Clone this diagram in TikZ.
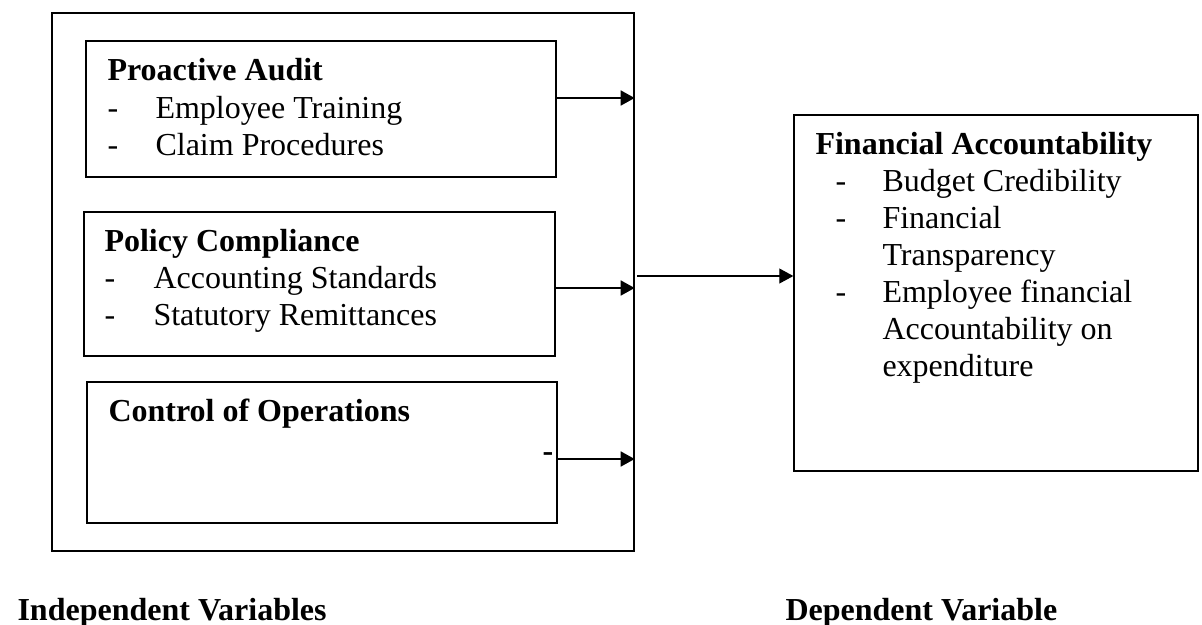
\documentclass[tikz,border=0pt]{standalone}
\usepackage{fontspec}
\setmainfont{Liberation Serif}
\usetikzlibrary{arrows.meta,fit}
\begin{document}
\begin{tikzpicture}[x=0.375pt,y=-0.375pt,
  box/.style={draw, line width=0.5pt, inner sep=0pt},
  txt/.style={anchor=base west, inner sep=0pt, font=\fontsize{12}{13.8}\selectfont},
  hd/.style={txt, font=\fontsize{12}{13.8}\selectfont\bfseries},
  arr/.style={line width=0.75pt, -{Triangle[length=5.25pt,width=5.6pt]}},
  thinarr/.style={line width=0.45pt, -{Triangle[length=5.25pt,width=5.6pt]}}]
\useasboundingbox (0,0) rectangle (1202,624);

% frames
\node[box, fit={(52,13)(634,551)}] (outer) {};
\node[box, fit={(86,41)(556,177)}] (pa) {};
\node[box, fit={(84,212)(555,356)}] (pc) {};
\node[box, fit={(87,382)(557,523)}] (co) {};
\node[box, fit={(794,115)(1198,471)}] (fa) {};

% independent variables
\node[hd] (paT) at (107,80) {Proactive Audit};
\node[txt] (paD1) at (107,118) {-};
\node[txt] (paI1) at (155,118) {Employee Training};
\node[txt] (paD2) at (107,155) {-};
\node[txt] (paI2) at (155,155) {Claim Procedures};

\node[hd] (pcT) at (104,251) {Policy Compliance};
\node[txt] (pcD1) at (104,288) {-};
\node[txt] (pcI1) at (153,288) {Accounting Standards};
\node[txt] (pcD2) at (104,325) {-};
\node[txt] (pcI2) at (153,325) {Statutory Remittances};

\node[hd] (coT) at (108,421) {Control of Operations};
\node[hd] (coD) at (542,461) {-};

% dependent variable
\node[hd] (faT) at (815,154) {Financial Accountability};
\node[txt] (faD1) at (835,191) {-};
\node[txt] (faI1) at (882,191) {Budget Credibility};
\node[txt] (faD2) at (835,228) {-};
\node[txt] (faI2) at (882,228) {Financial};
\node[txt] (faI2b) at (882,265) {Transparency};
\node[txt] (faD3) at (835,302) {-};
\node[txt] (faI3) at (882,302) {Employee financial};
\node[txt] (faI3b) at (882,339) {Accountability on};
\node[txt] (faI3c) at (882,376) {expenditure};

% arrows
\coordinate (y1) at (0,98);
\coordinate (y2) at (0,288);
\coordinate (y3) at (0,459);
\coordinate (y4) at (0,276);
\draw[arr] (pa.east |- y1) -- (outer.east |- y1);
\draw[arr] (pc.east |- y2) -- (outer.east |- y2);
\draw[arr] (co.east |- y3) -- (outer.east |- y3);
\draw[thinarr] ([xshift=1pt]outer.east |- y4) -- (fa.west |- y4);

% captions
\node[hd] (iv) at (17,620) {Independent Variables};
\node[hd] (dv) at (785,620) {Dependent Variable};
\end{tikzpicture}
\end{document}
